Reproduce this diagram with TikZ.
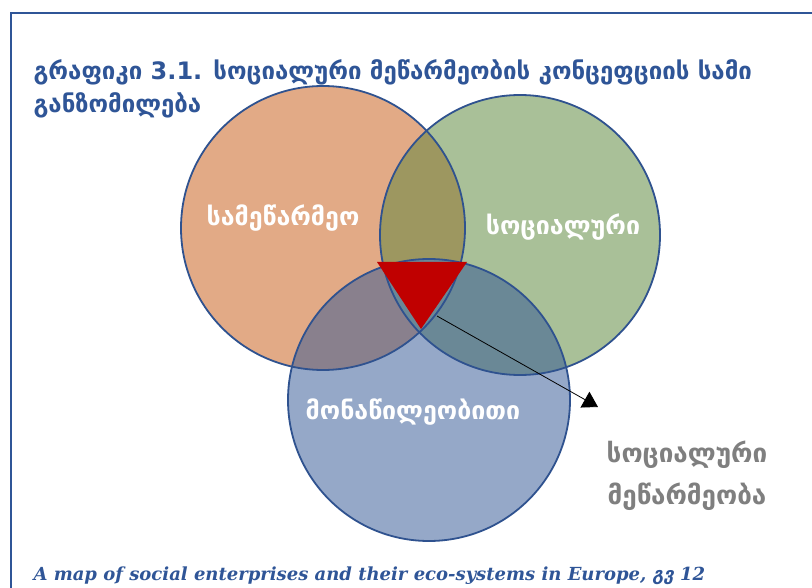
\documentclass[tikz,border=0pt]{standalone}
\usepackage{fontspec}
\newfontfamily\geofont{DejaVu Sans}
\newfontfamily\footfont{DejaVu Serif}
\usetikzlibrary{arrows.meta}
\definecolor{frameblue}{HTML}{2F5597}
\definecolor{ringblue}{HTML}{2F528F}
\definecolor{orangefill}{HTML}{E2AA86}
\definecolor{greenfill}{HTML}{A9C098}
\definecolor{bluefill}{HTML}{95A8C8}
\definecolor{ogfill}{HTML}{9D9760}
\definecolor{obfill}{HTML}{89808D}
\definecolor{gbfill}{HTML}{6A8896}
\definecolor{coredred}{HTML}{C00000}
\definecolor{labelgray}{HTML}{7F7F7F}
\begin{document}
\begin{tikzpicture}[x=1pt,y=-1pt,
    ring/.style={draw=ringblue,line width=1.8pt},
    inlabel/.style={text=white,font=\geofont\bfseries\fontsize{25}{29}\selectfont},
    outlabel/.style={text=labelgray,font=\geofont\bfseries\fontsize{26}{30}\selectfont},
    titletext/.style={text=frameblue,font=\geofont\bfseries\fontsize{24}{28}\selectfont,anchor=base west}]
        \useasboundingbox (0,0) rectangle (812,588);
        \fill[white] (0,0) rectangle (812,588);
        \draw[frameblue,line width=2pt] (11,588) -- (11,13) -- (812,13);

        % three dimensions
        \coordinate (ent) at (323,228);
        \coordinate (soc) at (520,235);
        \coordinate (par) at (429,400);
        \fill[orangefill] (ent) circle (142pt);
        \fill[greenfill]  (soc) circle (140pt);
        \fill[bluefill]   (par) circle (141pt);
        \begin{scope}
          \clip (ent) circle (142pt);
          \fill[ogfill] (soc) circle (140pt);
          \fill[obfill] (par) circle (141pt);
        \end{scope}
        \begin{scope}
          \clip (soc) circle (140pt);
          \fill[gbfill] (par) circle (141pt);
        \end{scope}
        \draw[ring] (ent) circle (142pt);
        \draw[ring] (soc) circle (140pt);
        \draw[ring] (par) circle (141pt);

        % social enterprise core
        \fill[coredred] (377,262) -- (467,262) -- (421,329) -- cycle;
        \coordinate (core) at (437,316);
        \coordinate (tip) at (598,407);
        \draw[line width=0.8pt,-{Triangle[length=15pt,width=18pt]}] (core) -- (tip);

        \node[inlabel] (entL) at (283,218) {სამეწარმეო};
        \node[inlabel] (socL) at (563,227) {სოციალური};
        \node[inlabel] (parL) at (413,412) {მონაწილეობითი};

        \node[outlabel] (se1) at (687,455) {სოციალური};
        \node[outlabel] (se2) at (687,497) {მეწარმეობა};

        % title and source
        \node[titletext] (title1) at (30,80) {გრაფიკი 3.1. სოციალური მეწარმეობის კონცეფციის სამი};
        \node[titletext] (title2) at (30,113) {განზომილება};
        \node[anchor=base west,text=frameblue] (source) at (30,580)
          {\footfont\bfseries\itshape\fontsize{18}{21}\selectfont A map of social enterprises and their eco-systems in Europe, {\geofont\bfseries\itshape გვ} 12};
\end{tikzpicture}
\end{document}
